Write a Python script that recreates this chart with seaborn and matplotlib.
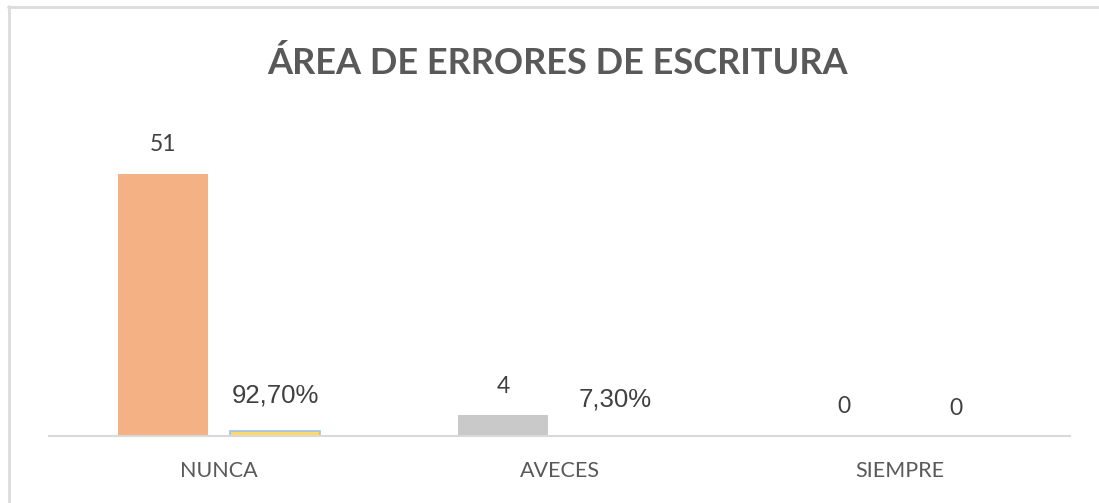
import numpy as np
import pandas as pd
import matplotlib
matplotlib.use("Agg")
import matplotlib.pyplot as plt
from matplotlib.lines import Line2D
import seaborn as sns

# data
categorias = ["NUNCA", "AVECES", "SIEMPRE"]
frecuencia = [51, 4, 0]
porcentaje = [0.927, 0.073, 0.0]
porcentaje_txt = ["92,70%", "7,30%", "0"]

colores_frec = ["#F4B183", "#C9C9C9", "#A5A5A5"]
color_pct = "#FFD966"
borde_pct = "#9DC3E6"

df = pd.DataFrame({
    "categoria": categorias * 2,
    "valor": frecuencia + porcentaje,
    "serie": ["Frecuencia"] * 3 + ["Porcentaje"] * 3,
})

sns.set_style("white")
plt.rcParams["font.family"] = ["Lato", "DejaVu Sans"]

fig = plt.figure(figsize=(10.99, 5.03), dpi=100)
ax = fig.add_axes([49 / 1099, 67 / 503, (1070 - 49) / 1099, 326 / 503])

sns.barplot(data=df, x="categoria", y="valor", hue="serie", order=categorias,
            width=0.66, gap=0.2, legend=False, ax=ax)

ax.set_xlim(-0.5, 2.5)
ax.set_ylim(0, 63.4)

barras = ax.patches
# first three: frecuencia, next three: porcentaje
for i, p in enumerate(barras[:3]):
    p.set_facecolor(colores_frec[i])
    p.set_edgecolor("none")
for p in barras[3:6]:
    p.set_facecolor(color_pct)
    p.set_edgecolor(borde_pct)
    p.set_linewidth(1.2)

texto = "#404040"
for i, p in enumerate(barras[:3]):
    cx = p.get_x() + p.get_width() / 2
    ax.annotate(str(frecuencia[i]), (cx, p.get_height()), xytext=(0, 21),
                textcoords="offset points", ha="center", va="center",
                fontsize=16.5, color=texto)
for i, p in enumerate(barras[3:6]):
    cx = p.get_x() + p.get_width() / 2
    if porcentaje[i] == 0:
        ax.annotate(porcentaje_txt[i], (cx, 0), xytext=(0, 20),
                    textcoords="offset points", ha="center", va="center",
                    fontsize=16.5, color=texto)
    else:
        ax.annotate(porcentaje_txt[i], (cx, p.get_height()), xytext=(0, 26),
                    textcoords="offset points", ha="center", va="center",
                    fontsize=18.5, color=texto, family=["Liberation Sans"])

sns.despine(ax=ax, left=True, top=True, right=True)
ax.spines["bottom"].set_color("#D9D9D9")
ax.spines["bottom"].set_linewidth(1.5)
ax.set_yticks([])
ax.set_xlabel("")
ax.set_ylabel("")
ax.tick_params(axis="x", length=0, pad=18, labelsize=15.5, labelcolor="#595959")

fig.text(558 / 1099, 1 - 63 / 503, "ÁREA DE ERRORES DE ESCRITURA",
         ha="center", va="center", fontsize=26, fontweight="bold", color="#595959")

# outer frame of the screenshot
fig.add_artist(Line2D([8 / 1099, 1], [1 - 6.5 / 503, 1 - 6.5 / 503],
                      transform=fig.transFigure, color="#DCDCDC", lw=2))
fig.add_artist(Line2D([8.5 / 1099, 8.5 / 1099], [0, 1 - 6 / 503],
                      transform=fig.transFigure, color="#DCDCDC", lw=2))

fig.savefig("out.png", dpi=100)
